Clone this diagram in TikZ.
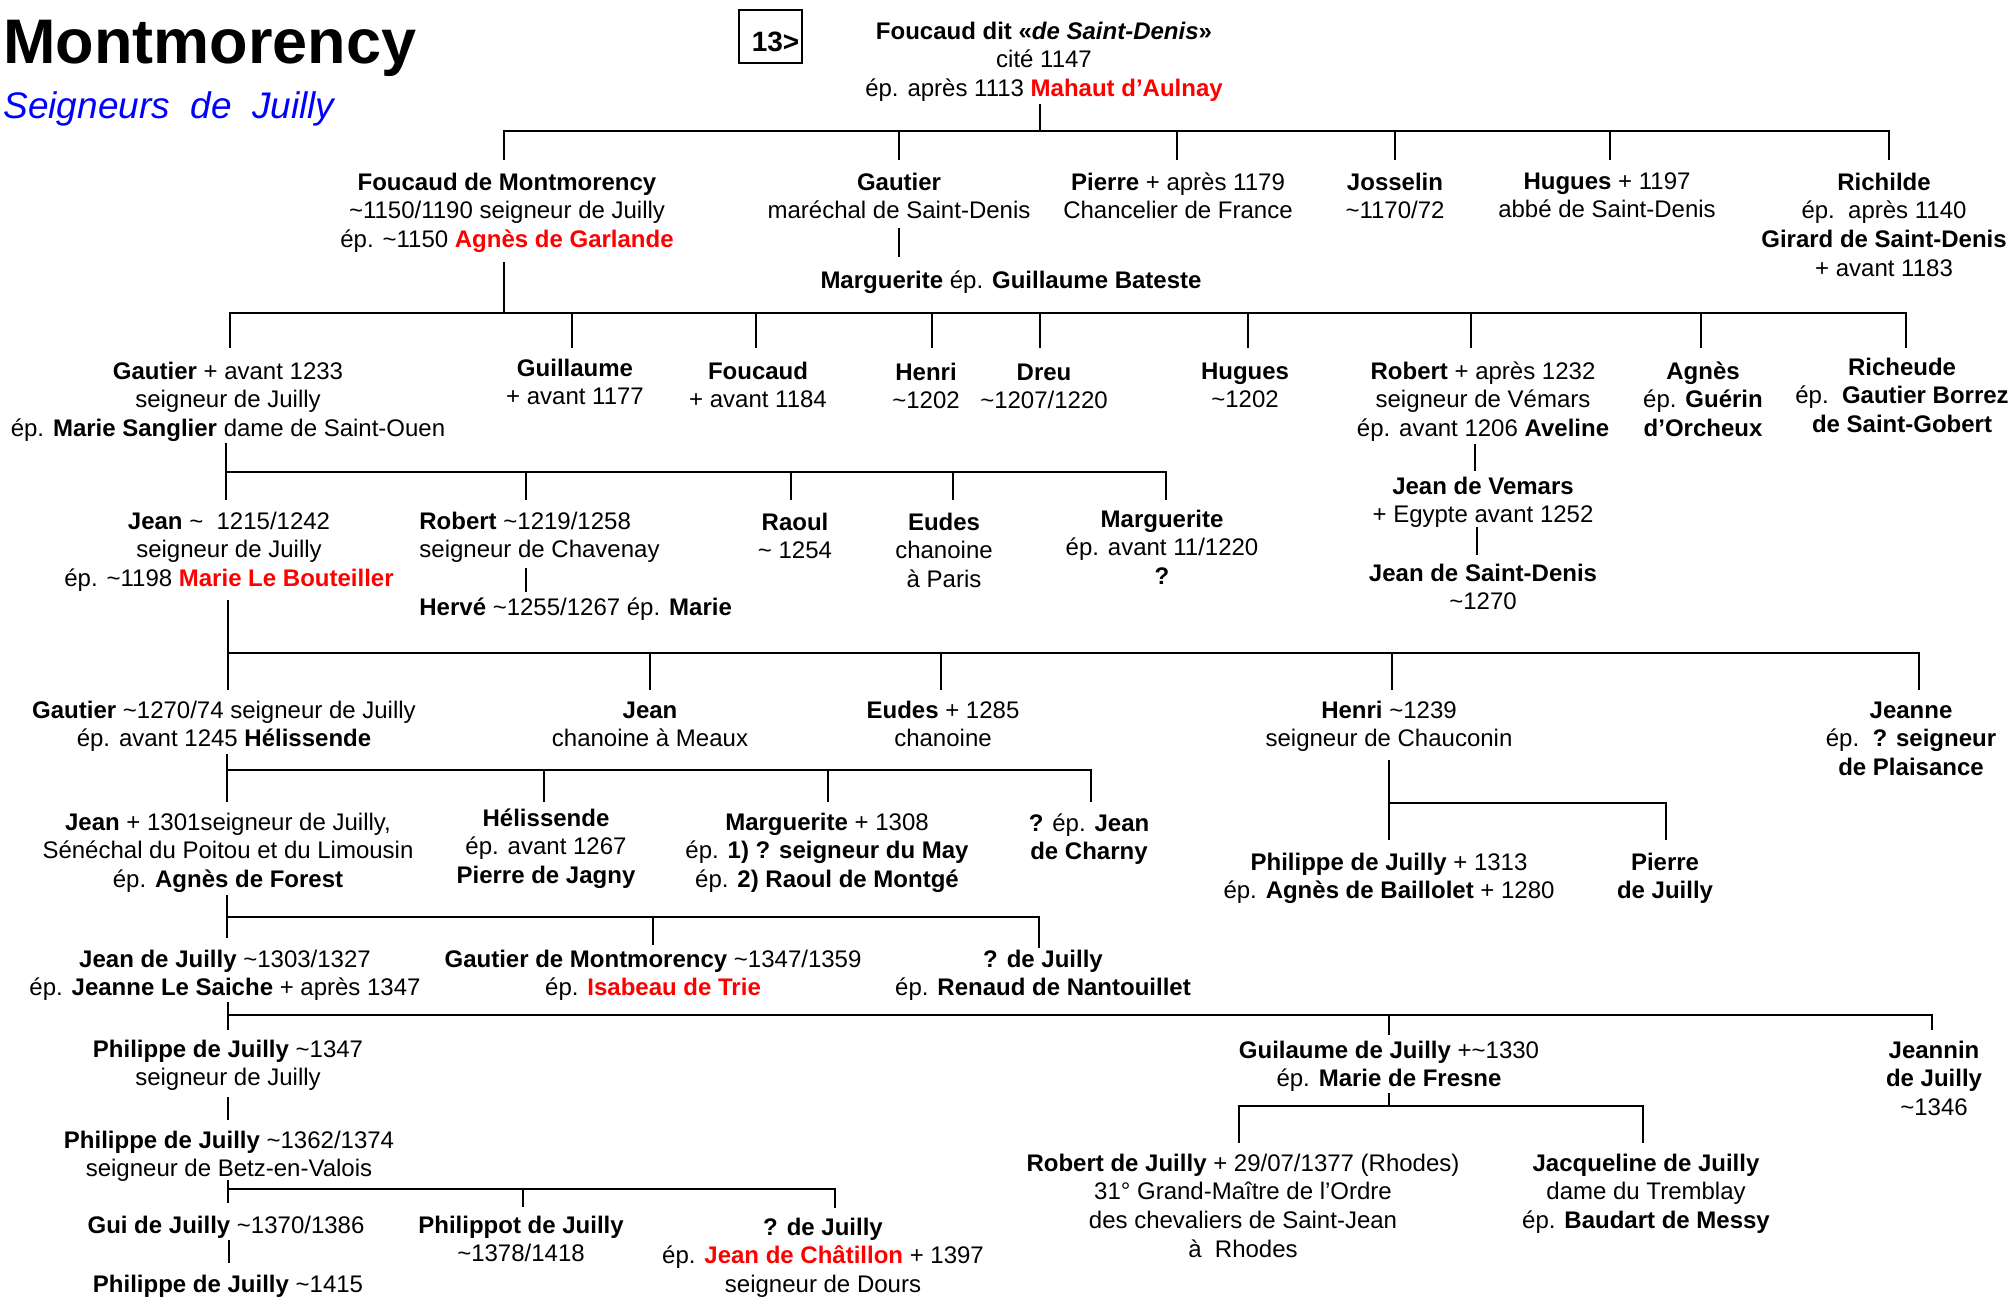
\documentclass[tikz,border=0pt]{standalone}
\usepackage{fontspec}
\setmainfont{Liberation Sans}
\definecolor{rd}{RGB}{255,0,0}
\definecolor{bl}{RGB}{0,0,255}
\newcommand\blk[1]{\begin{tabular}[t]{@{}c@{}}#1\end{tabular}}
\newcommand\lblk[1]{\begin{tabular}[t]{@{}l@{}}#1\end{tabular}}
\newcommand\rd[1]{\textcolor{rd}{\textbf{#1}}}
\newcommand\tld{\textasciitilde}
\begin{document}
\begin{tikzpicture}[x=0.5pt,y=-0.5pt,
  P/.style={font=\fontsize{12}{14.45}\selectfont, inner sep=0pt, anchor=base},
  PL/.style={P, anchor=base west},
  ln/.style={line width=1.25pt, line cap=butt, line join=miter}]
\useasboundingbox[fill=white] (0,0) rectangle (2011,1297);

% titles
\node[anchor=base west, inner sep=0pt, font=\fontsize{31.5}{36}\selectfont\bfseries] (title) at (3,63) {Montmorency};
\node[anchor=base west, inner sep=0pt, font=\fontsize{18.5}{22}\selectfont\itshape, text=bl] (sub) at (3,118) {Seigneurs\ \ de\ \ Juilly};
\node[draw, line width=1pt, inner sep=0pt, minimum width=31.5pt, minimum height=26.5pt] (box) at (770.5,36.5) {};
\node[inner sep=0pt, anchor=base, font=\fontsize{14}{16}\selectfont\bfseries] (boxlabel) at (775.5,51) {13>};

% generation 0
\node[P] (n0) at (1044,39) {\blk{\textbf{Foucaud dit «\textit{de Saint-Denis}»}\\cité 1147\\ép. après 1113 \rd{Mahaut d’Aulnay}}};

% generation 1
\node[P] (n1) at (507,190) {\blk{\textbf{Foucaud de Montmorency}\\\tld1150/1190 seigneur de Juilly\\ép. \tld1150 \rd{Agnès de Garlande}}};
\node[P] (n2) at (899,190) {\blk{\textbf{Gautier}\\maréchal de Saint-Denis}};
\node[P] (n3) at (1178,190) {\blk{\textbf{Pierre} + après 1179\\Chancelier de France}};
\node[P] (n4) at (1395,190) {\blk{\textbf{Josselin}\\\tld1170/72}};
\node[P] (n5) at (1607,189) {\blk{\textbf{Hugues} + 1197\\abbé de Saint-Denis}};
\node[P] (n6) at (1884,190) {\blk{\textbf{Richilde}\\ép.\ \ après 1140\\\textbf{Girard de Saint-Denis}\\+ avant 1183}};
\node[P] (n7) at (1011,288) {\textbf{Marguerite} ép. \textbf{Guillaume Bateste}};

% generation 2
\node[P] (g1) at (228,379) {\blk{\textbf{Gautier} + avant 1233\\seigneur de Juilly\\ép. \textbf{Marie Sanglier} dame de Saint-Ouen}};
\node[P] (g2) at (575,376) {\blk{\textbf{Guillaume}\\+ avant 1177}};
\node[P] (g3) at (758,379) {\blk{\textbf{Foucaud}\\+ avant 1184}};
\node[P] (g4) at (926,380) {\blk{\textbf{Henri}\\\tld1202}};
\node[P] (g5) at (1044,380) {\blk{\textbf{Dreu}\\\tld1207/1220}};
\node[P] (g6) at (1245,379) {\blk{\textbf{Hugues}\\\tld1202}};
\node[P] (g7) at (1483,379) {\blk{\textbf{Robert} + après 1232\\seigneur de Vémars\\ép. avant 1206 \textbf{Aveline}}};
\node[P] (g8) at (1703,379) {\blk{\textbf{Agnès}\\ép. \textbf{Guérin}\\\textbf{d’Orcheux}}};
\node[P] (g9) at (1902,375) {\blk{\textbf{Richeude}\\ép.\ \ \textbf{Gautier Borrez}\\\textbf{de Saint-Gobert}}};
\node[P] (v1) at (1483,494) {\blk{\textbf{Jean de Vemars}\\+ Egypte avant 1252}};
\node[P] (v2) at (1483,581) {\blk{\textbf{Jean de Saint-Denis}\\\tld1270}};

% generation 3
\node[P] (j1) at (229,529) {\blk{\textbf{Jean} \tld\ \ 1215/1242\\seigneur de Juilly\\ép. \tld1198 \rd{Marie Le Bouteiller}}};
\node[PL] (j2) at (419,529) {\lblk{\textbf{Robert} \tld1219/1258\\seigneur de Chavenay}};
\node[PL] (j2b) at (419,615) {\textbf{Hervé} \tld1255/1267 ép. \textbf{Marie}};
\node[P] (j3) at (795,530) {\blk{\textbf{Raoul}\\\tld\ 1254}};
\node[P] (j4) at (944,530) {\blk{\textbf{Eudes}\\chanoine\\à Paris}};
\node[P] (j5) at (1162,527) {\blk{\textbf{Marguerite}\\ép. avant 11/1220\\\textbf{?}}};

% generation 4
\node[P] (k1) at (224,718) {\blk{\textbf{Gautier} \tld1270/74 seigneur de Juilly\\ép. avant 1245 \textbf{Hélissende}}};
\node[P] (k2) at (650,718) {\blk{\textbf{Jean}\\chanoine à Meaux}};
\node[P] (k3) at (943,718) {\blk{\textbf{Eudes} + 1285\\chanoine}};
\node[P] (k4) at (1389,718) {\blk{\textbf{Henri} \tld1239\\seigneur de Chauconin}};
\node[P] (k5) at (1911,718) {\blk{\textbf{Jeanne}\\ép.\ \ \textbf{? seigneur}\\\textbf{de Plaisance}}};

% generation 5
\node[P] (m1) at (228,830) {\blk{\textbf{Jean} + 1301seigneur de Juilly,\\Sénéchal du Poitou et du Limousin\\ép. \textbf{Agnès de Forest}}};
\node[P] (m2) at (546,826) {\blk{\textbf{Hélissende}\\ép. avant 1267\\\textbf{Pierre de Jagny}}};
\node[P] (m3) at (827,830) {\blk{\textbf{Marguerite} + 1308\\ép. \textbf{1) ? seigneur du May}\\ép. \textbf{2) Raoul de Montgé}}};
\node[P] (m4) at (1089,831) {\blk{\textbf{?} ép. \textbf{Jean}\\\textbf{de Charny}}};
\node[P] (m5) at (1389,870) {\blk{\textbf{Philippe de Juilly} + 1313\\ép. \textbf{Agnès de Baillolet} + 1280}};
\node[P] (m6) at (1665,870) {\blk{\textbf{Pierre}\\\textbf{de Juilly}}};

% generation 6
\node[P] (p1) at (225,967) {\blk{\textbf{Jean de Juilly} \tld1303/1327\\ép. \textbf{Jeanne Le Saiche} + après 1347}};
\node[P] (p2) at (653,967) {\blk{\textbf{Gautier de Montmorency} \tld1347/1359\\ép. \rd{Isabeau de Trie}}};
\node[P] (p3) at (1043,967) {\blk{\textbf{? de Juilly}\\ép. \textbf{Renaud de Nantouillet}}};

% generation 7+
\node[P] (q1) at (228,1057) {\blk{\textbf{Philippe de Juilly} \tld1347\\seigneur de Juilly}};
\node[P] (q2) at (1389,1058) {\blk{\textbf{Guilaume de Juilly} +\tld1330\\ép. \textbf{Marie de Fresne}}};
\node[P] (q3) at (1934,1058) {\blk{\textbf{Jeannin}\\\textbf{de Juilly}\\\tld1346}};
\node[P] (q4) at (229,1148) {\blk{\textbf{Philippe de Juilly} \tld1362/1374\\seigneur de Betz-en-Valois}};
\node[P] (r1) at (226,1233) {\textbf{Gui de Juilly} \tld1370/1386};
\node[P] (r2) at (521,1233) {\blk{\textbf{Philippot de Juilly}\\\tld1378/1418}};
\node[P] (r3) at (823,1235) {\blk{\textbf{? de Juilly}\\ép. \rd{Jean de Châtillon} + 1397\\seigneur de Dours}};
\node[P] (r4) at (228,1292) {\textbf{Philippe de Juilly} \tld1415};
\node[P] (s1) at (1243,1171) {\blk{\textbf{Robert de Juilly} + 29/07/1377 (Rhodes)\\31° Grand-Maître de l’Ordre\\des chevaliers de Saint-Jean\\à\ \ Rhodes}};
\node[P] (s2) at (1646,1171) {\blk{\textbf{Jacqueline de Juilly}\\dame du Tremblay\\ép. \textbf{Baudart de Messy}}};

% connectors
\draw[ln] (1040,104) -- (1040,131);
\draw[ln] (504,160) -- (504,131) -- (1889,131) -- (1889,160);
\draw[ln] foreach \x in {899,1177,1395,1610} {(\x,131) -- (\x,160)};
\draw[ln] (899,228) -- (899,257);

\draw[ln] (504,262) -- (504,313);
\draw[ln] (230,348) -- (230,313) -- (1906,313) -- (1906,348);
\draw[ln] foreach \x in {572,756,932,1040,1248,1471,1701} {(\x,313) -- (\x,348)};
\draw[ln] (1475,444) -- (1475,471);
\draw[ln] (1477,527) -- (1477,555);

\draw[ln] (226,443) -- (226,500);
\draw[ln] (226,472) -- (1166,472) -- (1166,500);
\draw[ln] foreach \x in {526,791,953} {(\x,472) -- (\x,500)};
\draw[ln] (526,568) -- (526,592);

\draw[ln] (228,600) -- (228,690);
\draw[ln] (228,653) -- (1919,653) -- (1919,690);
\draw[ln] foreach \x in {650,941,1392} {(\x,653) -- (\x,690)};

\draw[ln] (227,754) -- (227,802);
\draw[ln] (227,770) -- (1091,770) -- (1091,802);
\draw[ln] foreach \x in {544,828} {(\x,770) -- (\x,802)};
\draw[ln] (1389,760) -- (1389,840);
\draw[ln] (1389,803) -- (1666,803) -- (1666,840);

\draw[ln] (227,895) -- (227,938);
\draw[ln] (227,917) -- (1039,917) -- (1039,948);
\draw[ln] (653,917) -- (653,945);

\draw[ln] (228,1002) -- (228,1030);
\draw[ln] (228,1015) -- (1932,1015) -- (1932,1030);
\draw[ln] (1389,1015) -- (1389,1035);

\draw[ln] (228,1097) -- (228,1120);
\draw[ln] (228,1180) -- (228,1203);
\draw[ln] (228,1189) -- (835,1189) -- (835,1208);
\draw[ln] (523,1189) -- (523,1207);
\draw[ln] (229,1240) -- (229,1263);

\draw[ln] (1389,1093) -- (1389,1106);
\draw[ln] (1239,1143) -- (1239,1106) -- (1643,1106) -- (1643,1143);
\end{tikzpicture}
\end{document}
